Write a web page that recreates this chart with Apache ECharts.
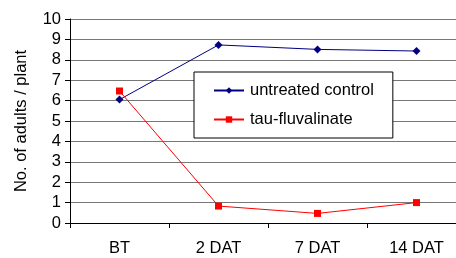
<!DOCTYPE html>
<html>
<head>
<meta charset="utf-8">
<script src="https://cdn.jsdelivr.net/npm/echarts@6/dist/echarts.min.js"></script>
<style>
  html, body { margin: 0; padding: 0; background: #fff; }
  #chart { width: 456px; height: 258px; }
</style>
</head>
<body>
<div id="chart"></div>
<script>
// data
const categories = ["BT", "2 DAT", "7 DAT", "14 DAT"];
const untreated = [6.05, 8.73, 8.51, 8.43];
const tauFluvalinate = [6.47, 0.83, 0.47, 1.0];
const yTicks = [0, 1, 2, 3, 4, 5, 6, 7, 8, 9, 10];

const font = "Liberation Sans, Arial, sans-serif";

var myChart = echarts.init(document.getElementById("chart"));
var option = {
  animation: false,
  backgroundColor: "#fff",
  grid: {
    left: 70,
    top: 19,
    bottom: 35,
    right: -10,
    containLabel: false,
    outerBoundsMode: "none"
  },
  legend: {
    orient: "vertical",
    left: 194,
    top: 72,
    padding: [10, 19, 10, 19],
    itemGap: 12,
    itemWidth: 30,
    itemHeight: 8,
    backgroundColor: "#fff",
    borderColor: "#000",
    borderWidth: 1,
    borderRadius: 0,
    textStyle: { fontFamily: font, fontSize: 16.5, color: "#000", padding: [0, 0, 0, 1] },
    data: ["untreated control", "tau-fluvalinate"]
  },
  xAxis: {
    type: "category",
    data: categories,
    boundaryGap: true,
    axisLine: { lineStyle: { color: "#000", width: 1 } },
    axisTick: { show: true, length: 5, lineStyle: { color: "#000" } },
    axisLabel: { fontFamily: font, fontSize: 16.5, color: "#000", margin: 17 }
  },
  yAxis: {
    type: "value",
    min: yTicks[0],
    max: yTicks[yTicks.length - 1],
    interval: 1,
    name: "No. of adults / plant",
    nameLocation: "middle",
    nameGap: 40,
    nameTextStyle: { fontFamily: font, fontSize: 16.5, color: "#000" },
    axisLine: { show: true, lineStyle: { color: "#000", width: 1 } },
    axisTick: { show: true, length: 5, lineStyle: { color: "#000" } },
    axisLabel: { fontFamily: font, fontSize: 16.5, color: "#000", margin: 9 },
    splitLine: { show: true, lineStyle: { color: "#777", width: 1 } }
  },
  series: [
    {
      name: "untreated control",
      type: "line",
      data: untreated,
      symbol: "diamond",
      symbolSize: 8,
      color: "#000080",
      lineStyle: { width: 1, color: "#000080" },
      itemStyle: { color: "#000080" }
    },
    {
      name: "tau-fluvalinate",
      type: "line",
      data: tauFluvalinate,
      symbol: "rect",
      symbolSize: 7,
      color: "#ff0000",
      lineStyle: { width: 1, color: "#ff0000" },
      itemStyle: { color: "#ff0000" }
    }
  ]
};
myChart.setOption(option);
</script>
</body>
</html>
